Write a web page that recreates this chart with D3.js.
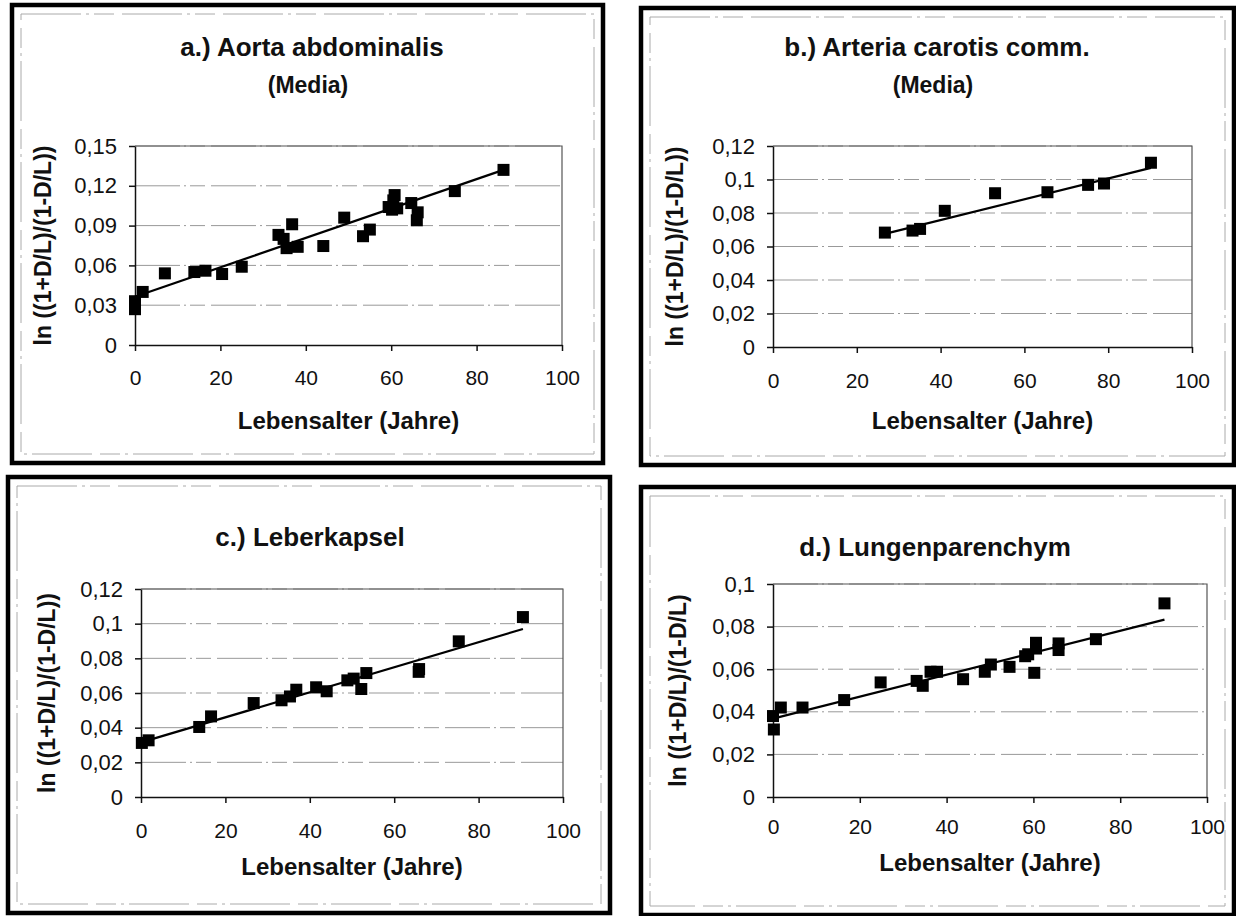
<!DOCTYPE html>
<html lang="de">
<head>
  <meta charset="UTF-8">
  <title>Lebensalter</title>
  <script src="https://d3js.org/d3.v7.min.js"></script>
  <style>
    body { margin: 0; background: #fff; }
    text { font-family: "Liberation Sans", Arial, sans-serif; fill: #111; }
    .tick text { font-size: 22px; }
    .ttl { font-weight: bold; }
  </style>
</head>
<body>
<div class="main"></div>
<script>
  // --- data ---
  let xTicks = [0, 20, 40, 60, 80, 100];
  let xTickLabels = ["0", "20", "40", "60", "80", "100"];

  let titleA = "a.) Aorta abdominalis";
  let agesA = [0, 0, 1.8, 7, 13.9, 16.5, 20.4, 25, 33.6, 34.8, 35.5, 36.8, 38.1, 44.1, 49, 53.4, 55, 59.4, 60.2, 60.5, 60.8, 61.4, 64.7, 66.2, 66, 74.9, 86.3];
  let valuesA = [0.033, 0.027, 0.040, 0.054, 0.055, 0.056, 0.0535, 0.059, 0.083, 0.080, 0.073, 0.091, 0.074, 0.0746, 0.096, 0.082, 0.087, 0.104, 0.102, 0.109, 0.113, 0.103, 0.107, 0.100, 0.094, 0.116, 0.132];
  let trendA = [0.0364, 0.001108];
  let yTicksA = [0, 0.03, 0.06, 0.09, 0.12, 0.15];
  let yTickLabelsA = ["0", "0,03", "0,06", "0,09", "0,12", "0,15"];

  let titleB = "b.) Arteria carotis comm.";
  let agesB = [26.7, 33.3, 35.1, 41, 53, 65.5, 75.2, 79, 90.2];
  let valuesB = [0.0683, 0.0695, 0.0705, 0.0813, 0.0918, 0.0924, 0.0968, 0.0976, 0.110];
  let trendB = [0.0510, 0.00062];
  let yTicksB = [0, 0.02, 0.04, 0.06, 0.08, 0.1, 0.12];
  let yTickLabelsB = ["0", "0,02", "0,04", "0,06", "0,08", "0,1", "0,12"];

  let titleC = "c.) Leberkapsel";
  let agesC = [0.2, 1.8, 13.8, 16.6, 26.7, 33.3, 35.3, 36.8, 41.5, 44, 48.9, 50.4, 52.2, 53.4, 65.8, 65.9, 75.3, 90.5];
  let valuesC = [0.0312, 0.0327, 0.0404, 0.0465, 0.0542, 0.0558, 0.058, 0.0619, 0.0633, 0.061, 0.0673, 0.0683, 0.0623, 0.0715, 0.0722, 0.0738, 0.0898, 0.1038];
  let trendC = [0.0315, 0.000723];
  let yTicksC = [0, 0.02, 0.04, 0.06, 0.08, 0.1, 0.12];
  let yTickLabelsC = ["0", "0,02", "0,04", "0,06", "0,08", "0,1", "0,12"];

  let titleD = "d.) Lungenparenchym";
  let agesD = [0, 0.2, 1.8, 6.8, 16.4, 24.8, 33.1, 34.5, 36.3, 37.8, 43.8, 48.8, 50.2, 54.5, 58.1, 58.8, 60.2, 60.6, 60.6, 65.8, 65.8, 74.4, 90.2];
  let valuesD = [0.038, 0.0317, 0.042, 0.042, 0.0455, 0.0538, 0.0545, 0.0522, 0.0588, 0.0588, 0.0553, 0.0588, 0.0622, 0.0611, 0.0661, 0.067, 0.0583, 0.0724, 0.0697, 0.069, 0.0721, 0.0741, 0.0909];
  let trendD = [0.0368, 0.000515];
  let yTicksD = [0, 0.02, 0.04, 0.06, 0.08, 0.1];
  let yTickLabelsD = ["0", "0,02", "0,04", "0,06", "0,08", "0,1"];

  let subtitle = "(Media)";
  let xTitle = "Lebensalter (Jahre)";
  let yTitle = "ln ((1+D/L)/(1-D/L))";
  let yTitleD = "ln ((1+D/L)/(1-D/L)";

  // panel layout (pixels)
  let panels = [
    { title: titleA, sub: subtitle, ages: agesA, vals: valuesA, trend: trendA, yTicks: yTicksA, yLabels: yTickLabelsA, yMax: 0.15, yTitle: yTitle,
      frame: [12, 5, 591, 458], px: [135, 562], py: [345, 146], titleY: 56, subY: 93, titleX: 312, yTitleX: 43, xLabY: 370, xTitleY: 429 },
    { title: titleB, sub: subtitle, ages: agesB, vals: valuesB, trend: trendB, yTicks: yTicksB, yLabels: yTickLabelsB, yMax: 0.12, yTitle: yTitle,
      frame: [641, 8, 593, 457], px: [773, 1192], py: [347, 146], titleY: 56, subY: 93, titleX: 937, yTitleX: 675, xLabY: 373, xTitleY: 429 },
    { title: titleC, sub: null, ages: agesC, vals: valuesC, trend: trendC, yTicks: yTicksC, yLabels: yTickLabelsC, yMax: 0.12, yTitle: yTitle,
      frame: [8, 477, 602, 436], px: [141, 563], py: [797, 589], titleY: 546, subY: null, titleX: 310, yTitleX: 47, xLabY: 823, xTitleY: 875 },
    { title: titleD, sub: null, ages: agesD, vals: valuesD, trend: trendD, yTicks: yTicksD, yLabels: yTickLabelsD, yMax: 0.1, yTitle: yTitleD,
      frame: [641, 487, 593, 428], px: [773, 1207], py: [797, 584], titleY: 556, subY: null, titleX: 935, yTitleX: 678, xLabY: 819, xTitleY: 871 }
  ];

  let svg = d3.select(".main")
          .append("svg")
          .attr("width", 1236)
          .attr("height", 916)
          .style("display", "block");

  function drawPanel(p) {
    let g = svg.append("g");
    let f = p.frame;

    // outer thick frame and thin inner frame
    g.append("rect")
            .attr("x", f[0]).attr("y", f[1]).attr("width", f[2]).attr("height", f[3])
            .attr("fill", "none").attr("stroke", "#000").attr("stroke-width", 4.5);
    g.append("rect")
            .attr("x", f[0] + 9).attr("y", f[1] + 9).attr("width", f[2] - 18).attr("height", f[3] - 18)
            .attr("fill", "none").attr("stroke", "#aaa").attr("stroke-width", 1)
            .style("stroke-dasharray", "60,5,3,5,20,8");

    let x = d3.scaleLinear().domain([0, 100]).range(p.px);
    let y = d3.scaleLinear().domain([0, p.yMax]).range(p.py);

    // gridlines
    g.append("g").selectAll("line")
            .data(p.yTicks.slice(1))
            .join("line")
            .attr("x1", p.px[0]).attr("x2", p.px[1])
            .attr("y1", d => y(d)).attr("y2", d => y(d))
            .attr("stroke", "#999").attr("stroke-width", 1)
            .style("stroke-dasharray", "45,4,2,4,15,6");

    // plot area border (top / right)
    g.append("path")
            .attr("d", `M${p.px[0]},${p.py[1]}H${p.px[1]}V${p.py[0]}`)
            .attr("fill", "none").attr("stroke", "#555").attr("stroke-width", 1.2);

    // axes
    let yAxis = d3.axisLeft(y)
            .tickValues(p.yTicks)
            .tickFormat((d, i) => p.yLabels[i])
            .tickSize(6).tickSizeOuter(0).tickPadding(12);
    g.append("g").attr("transform", `translate(${p.px[0]},0)`).call(yAxis)
            .call(a => a.selectAll("line,path").attr("stroke", "#111").attr("stroke-width", 1.5));

    let xAxis = d3.axisBottom(x)
            .tickValues(xTicks)
            .tickFormat((d, i) => xTickLabels[i])
            .tickSize(6).tickSizeOuter(0).tickPadding(p.xLabY - p.py[0] - 6);
    g.append("g").attr("transform", `translate(0,${p.py[0]})`).call(xAxis)
            .call(a => a.selectAll("line,path").attr("stroke", "#111").attr("stroke-width", 1.5))
            .call(a => a.selectAll("text").style("font-size", "21px"));

    // trend line over the data range
    let xMin = d3.min(p.ages), xMax = d3.max(p.ages);
    g.append("line")
            .attr("x1", x(xMin)).attr("y1", y(p.trend[0] + p.trend[1] * xMin))
            .attr("x2", x(xMax)).attr("y2", y(p.trend[0] + p.trend[1] * xMax))
            .attr("stroke", "#000").attr("stroke-width", 2.2);

    // square markers
    let s = 12;
    g.append("g").selectAll("rect")
            .data(p.ages.map((a, i) => [a, p.vals[i]]))
            .join("rect")
            .attr("x", d => x(d[0]) - s / 2)
            .attr("y", d => y(d[1]) - s / 2)
            .attr("width", s).attr("height", s)
            .attr("fill", "#000");

    // titles
    g.append("text").attr("class", "ttl")
            .attr("x", p.titleX).attr("y", p.titleY)
            .attr("text-anchor", "middle").style("font-size", "26px")
            .text(p.title);
    if (p.sub) {
      g.append("text").attr("class", "ttl")
              .attr("x", p.titleX - 4).attr("y", p.subY)
              .attr("text-anchor", "middle").style("font-size", "23px")
              .text(p.sub);
    }

    let midX = (p.px[0] + p.px[1]) / 2;
    g.append("text").attr("class", "ttl")
            .attr("x", midX).attr("y", p.xTitleY)
            .attr("text-anchor", "middle").style("font-size", "24px")
            .text(xTitle);

    let midY = (p.py[0] + p.py[1]) / 2;
    g.append("text").attr("class", "ttl")
            .attr("transform", `translate(${p.yTitleX + 8},${midY}) rotate(-90)`)
            .attr("text-anchor", "middle").style("font-size", "23px")
            .text(p.yTitle);
  }

  panels.forEach(drawPanel);
</script>
</body>
</html>
